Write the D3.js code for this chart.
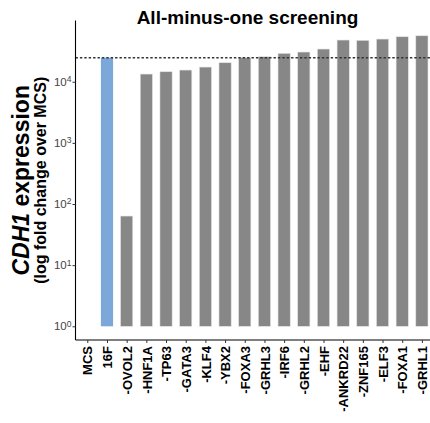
<!DOCTYPE html>
<html>
<head>
<meta charset="utf-8">
<script src="https://cdn.jsdelivr.net/npm/d3@7"></script>
<style>
  body { margin: 0; background: #fff; }
  svg { display: block; font-family: "Liberation Sans", Arial, sans-serif; }
</style>
</head>
<body>
<div id="chart"></div>
<script>
// bar categories, left to right
const categories = ["MCS", "16F", "-OVOL2", "-HNF1A", "-TP63", "-GATA3", "-KLF4", "-YBX2",
  "-FOXA3", "-GRHL3", "-IRF6", "-GRHL2", "-EHF", "-ANKRD22", "-ZNF165", "-ELF3", "-FOXA1", "-GRHL1"];

// CDH1 fold change over MCS
const values = [1, 24660, 63.6, 13360, 14580, 15530, 17380, 20460,
  24660, 25620, 29130, 30600, 34270, 48090, 47600, 49900, 54460, 56500];

const highlighted = "16F";
const referenceLine = 24660;          // dashed line at the 16F level
const yTickExponents = [0, 1, 2, 3, 4];

const width = 430, height = 423;
const margin = { left: 75.5, right: 433.7, top: 20.6, bottom: 340 };

const svg = d3.select("#chart").append("svg")
  .attr("width", width)
  .attr("height", height);

const x = d3.scalePoint()
  .domain(categories)
  .range([margin.left, margin.right])
  .padding(0.6);

const y = d3.scaleLog()
  .domain([Math.pow(10, -0.224), 1e5])
  .range([margin.bottom, margin.top]);

const barWidth = x.step() * 0.62;

// bars
svg.append("g")
  .selectAll("rect")
  .data(categories.map((c, i) => ({ cat: c, value: values[i] })))
  .join("rect")
  .attr("x", d => x(d.cat) - barWidth / 2)
  .attr("y", d => y(d.value))
  .attr("width", barWidth)
  .attr("height", d => y(1) - y(d.value))
  .attr("fill", d => d.cat === highlighted ? "#7ba7d9" : "#878787")
  .attr("stroke", d => d.cat === highlighted ? "none" : "#e3e3e3")
  .attr("stroke-width", 0.6);

// reference line
svg.append("line")
  .attr("x1", margin.left)
  .attr("x2", width)
  .attr("y1", y(referenceLine))
  .attr("y2", y(referenceLine))
  .attr("stroke", "#333")
  .attr("stroke-width", 1.3)
  .attr("stroke-dasharray", "2.4,2");

// y axis
const yAxis = svg.append("g")
  .attr("transform", `translate(${margin.left},0)`)
  .call(d3.axisLeft(y)
    .tickValues(yTickExponents.map(e => Math.pow(10, e)))
    .tickSize(3)
    .tickFormat(""));
yAxis.select(".domain").attr("stroke", "#000").attr("stroke-width", 1.1).attr("d", `M0,${margin.top}V${margin.bottom}`);
yAxis.selectAll(".tick line").attr("stroke", "#333");
yAxis.selectAll(".tick text").remove();
yAxis.selectAll(".tick")
  .data(yTickExponents)
  .append("text")
  .attr("x", -4)
  .attr("dy", "0.32em")
  .attr("text-anchor", "end")
  .attr("fill", "#444")
  .attr("font-size", 11.5)
  .call(t => {
    t.append("tspan").text("10");
    t.append("tspan").attr("dy", "-0.45em").attr("font-size", 8.5).text(d => d);
  });

// x axis
const xAxis = svg.append("g")
  .attr("transform", `translate(0,${margin.bottom})`)
  .call(d3.axisBottom(x).tickSize(3));
xAxis.select(".domain").attr("stroke", "#000").attr("stroke-width", 1.1).attr("d", `M${margin.left},0H${width}`);
xAxis.selectAll(".tick line").attr("stroke", "#333");
xAxis.selectAll(".tick text")
  .attr("transform", "rotate(-90)")
  .attr("text-anchor", "end")
  .attr("x", -6)
  .attr("y", 0)
  .attr("dy", "0.36em")
  .attr("fill", "#000")
  .attr("font-weight", "bold")
  .attr("font-size", 13);

// title
svg.append("text")
  .attr("x", 247.5)
  .attr("y", 24)
  .attr("text-anchor", "middle")
  .attr("font-weight", "bold")
  .attr("font-size", 19)
  .text("All-minus-one screening");

// y axis title, two lines
const yMid = (margin.top + margin.bottom) / 2;
const t1 = svg.append("text")
  .attr("transform", `translate(28.5,${yMid}) rotate(-90)`)
  .attr("text-anchor", "middle")
  .attr("font-weight", "bold")
  .attr("font-size", 23);
t1.append("tspan").attr("font-style", "italic").text("CDH1");
t1.append("tspan").text(" expression");

svg.append("text")
  .attr("transform", `translate(46,${yMid}) rotate(-90)`)
  .attr("text-anchor", "middle")
  .attr("font-weight", "bold")
  .attr("font-size", 16)
  .text("(log fold change over MCS)");
</script>
</body>
</html>
